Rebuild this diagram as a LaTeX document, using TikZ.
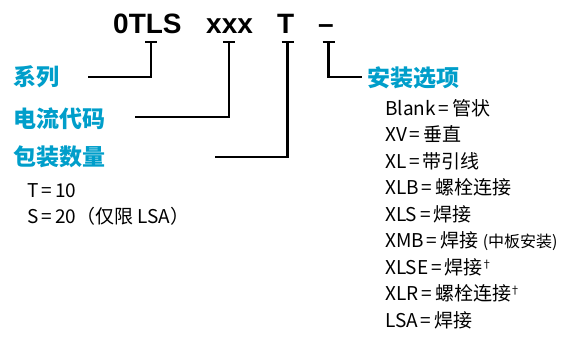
\documentclass[tikz,border=0pt]{standalone}
\usepackage{fontspec}
\setmainfont{Noto Sans CJK SC}
\newfontfamily\codefont{Liberation Sans}
\usetikzlibrary{positioning, calc}
\definecolor{labelblue}{RGB}{0,158,202}
\newcommand{\eqsign}{\hspace{3pt}=\hspace{3pt}}
\newcommand{\daggermark}{{\fontsize{11}{11}\selectfont\hspace{-1.5pt}\raisebox{6pt}{†}}}
\tikzset{
  codetext/.style = {font=\codefont\bfseries\fontsize{28}{28}\selectfont, inner sep=0pt, anchor=base west},
  fieldname/.style = {font=\bfseries\fontsize{23}{23}\selectfont, text=labelblue, inner sep=0pt, anchor=west},
  optitem/.style  = {font=\fontsize{19}{19}\selectfont, inner sep=0pt, anchor=base west},
  wire/.style     = {line width=2.5pt}
}

\begin{document}
\begin{tikzpicture}[x=1pt, y=-1pt]
  \useasboundingbox (0,0) rectangle (576,341);

  % part number
  \node[codetext] (c1) at (113,33) {0TLS};
  \node[codetext] (c2) at (206,33) {xxx};
  \node[codetext] (c3) at (277,33) {T};
  \node[codetext] (c4) at (318,33) {–};

  % field names
  \node[fieldname] (series) at (13,77) {系列};
  \node[fieldname] (current) at (13,119) {电流代码};
  \node[fieldname] (pack) at (13,157) {包装数量};
  \node[fieldname] (mount) at (367,78) {安装选项};

  \node[optitem] (pack1) at (27,197) {T\eqsign 10};
  \node[optitem] (pack2) at (27,223) {S\eqsign 20（仅限 LSA）};

  \foreach \txt [count=\i from 0] in {
      {Blank\eqsign 管状}, {XV\eqsign 垂直}, {XL\eqsign 带引线}, {XLB\eqsign 螺栓连接},
      {XLS\eqsign 焊接}, {XMB\eqsign 焊接 {\fontsize{16}{16}\selectfont (中板安装)}},
      {XLSE\eqsign 焊接\daggermark}, {XLR\eqsign 螺栓连接\daggermark},
      {LSA\eqsign 焊接}}
    \node[optitem] (opt\i) at (385,115+26.5*\i) {\txt};

  % ticks under the code
  \coordinate (t1) at (151,42);
  \coordinate (t2) at (229,42);
  \coordinate (t3) at (287.5,42);
  \coordinate (t4) at (328.5,42);
  \foreach \t in {t1,t2,t3,t4}
    \draw[wire] ($(\t)+(-6,0)$) -- ($(\t)+(6,0)$);

  % leaders
  \coordinate (e1) at (88,77);
  \coordinate (e2) at (135,117);
  \coordinate (e3) at (215,157);
  \coordinate (e4) at (362,77);
  \draw[wire] (t1) |- (e1);
  \draw[wire] (t2) |- (e2);
  \draw[wire] (t3) |- (e3);
  \draw[wire] (t4) |- (e4);
\end{tikzpicture}
\end{document}
